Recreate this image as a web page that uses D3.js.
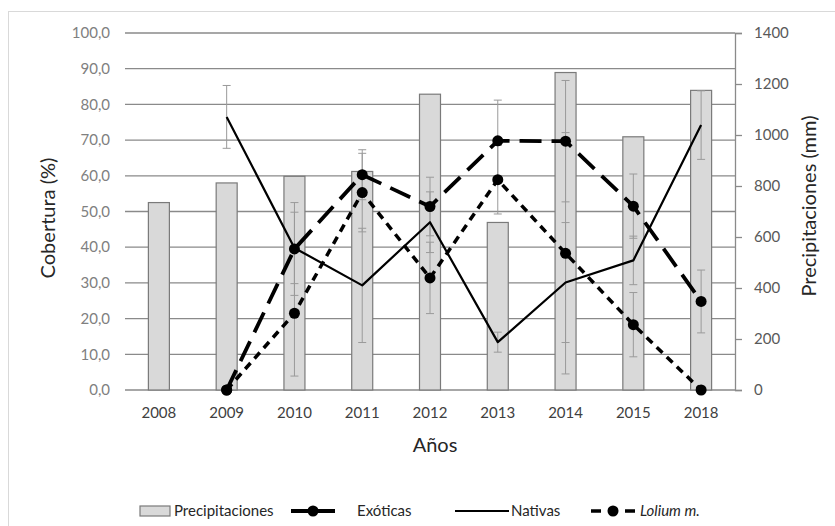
<!DOCTYPE html>
<html><head><meta charset="utf-8">
<script src="https://cdn.jsdelivr.net/npm/d3@7"></script>
<style>body{margin:0;background:#fff}svg{display:block;font-family:Lato,"Open Sans",sans-serif}</style>
</head><body><svg id="c" width="835" height="526"></svg>
<script>
const years = ["2008","2009","2010","2011","2012","2013","2014","2015","2018"];
const precip = [735, 812, 838, 857, 1160, 657, 1245, 993, 1175];
const exoticas = [null, 0, 39.5, 60.3, 51.4, 69.8, 69.7, 51.5, 24.8];
const exoticasErr = [null, 0, 13, 7, 8.2, 11.4, 17, 9, 8.8];
const nativas = [null, 76.5, 39.8, 29.3, 47, 13.4, 30.1, 36.3, 74.2];
const nativasErr = [null, 8.8, 10, 16, 8.5, 2.8, 16.8, 6.8, 9.6];
const lolium = [null, 0, 21.5, 55.3, 31.4, 58.9, 38.3, 18.3, 0];
const loliumErr = [null, 0, 17.6, 11, 10, 9.6, 33.8, 9, 0];
const leftTicks = [0,10,20,30,40,50,60,70,80,90,100];
const rightTicks = [0,200,400,600,800,1000,1200,1400];

const svg = d3.select("#c");
const L = 125, R = 735, T = 33, B = 390;
const x = d3.scaleBand().domain(years).range([L, R]).padding(0);
const yL = d3.scaleLinear().domain([0,100]).range([B, T]);
const yR = d3.scaleLinear().domain([0,1400]).range([B, T]);
const fmt = d => d.toFixed(1).replace(".", ",");
const cx = d => x(d) + x.bandwidth()/2;

// border
svg.append("rect").attr("x",8.5).attr("y",11.5).attr("width",840).attr("height",540)
  .attr("fill","none").attr("stroke","#d9d9d9");

// gridlines
svg.append("g").selectAll("line").data(leftTicks).join("line")
  .attr("x1",L).attr("x2",R).attr("y1",d=>yL(d)).attr("y2",d=>yL(d))
  .attr("stroke","#8a8a8a").attr("stroke-width",1.3);

// left labels
svg.append("g").selectAll("text").data(leftTicks).join("text")
  .attr("x",110).attr("y",d=>yL(d)).attr("dy","0.35em").attr("text-anchor","end")
  .attr("font-size",15).attr("fill","#808080").text(fmt);

// right axis
const ra = svg.append("g").attr("transform",`translate(${R},0)`)
  .call(d3.axisRight(yR).tickValues(rightTicks).tickSize(7).tickPadding(12).tickFormat(d3.format("d")));
ra.select(".domain").attr("stroke","#8a8a8a").attr("stroke-width",1.3);
ra.selectAll(".tick line").attr("stroke","#8a8a8a").attr("stroke-width",1.3);
ra.selectAll(".tick text").attr("font-size",15).attr("fill","#595959").attr("font-family","Lato");

// bars
const barW = 21;
svg.append("g").selectAll("rect").data(years).join("rect")
  .attr("x",d=>cx(d)-barW/2).attr("width",barW)
  .attr("y",(d,i)=>yR(precip[i])).attr("height",(d,i)=>B-yR(precip[i]))
  .attr("fill","#d9d9d9").attr("stroke","#7a7a7a").attr("stroke-width",1.2);

// x labels
svg.append("g").selectAll("text").data(years).join("text")
  .attr("x",cx).attr("y",413).attr("dy","0.35em").attr("text-anchor","middle")
  .attr("font-size",15).attr("fill","#404040").text(d=>d);

// error bars
function errBars(vals, errs){
  const g = svg.append("g").attr("stroke","#9a9a9a").attr("stroke-width",1);
  years.forEach((yr,i)=>{
    if(vals[i]==null || !errs[i]) return;
    const c = cx(yr), lo = yL(vals[i]-errs[i]), hi = yL(vals[i]+errs[i]);
    g.append("line").attr("x1",c).attr("x2",c).attr("y1",lo).attr("y2",hi);
    g.append("line").attr("x1",c-4).attr("x2",c+4).attr("y1",lo).attr("y2",lo);
    g.append("line").attr("x1",c-4).attr("x2",c+4).attr("y1",hi).attr("y2",hi);
  });
}
errBars(exoticas, exoticasErr);
errBars(nativas, nativasErr);
errBars(lolium, loliumErr);

const line = d3.line().defined(d=>d.v!=null).x(d=>cx(d.yr)).y(d=>yL(d.v));
function series(vals, w, dash, markers){
  const data = years.map((yr,i)=>({yr, v: vals[i]}));
  svg.append("path").datum(data).attr("d",line).attr("fill","none")
    .attr("stroke","#000").attr("stroke-width",w).attr("stroke-dasharray",dash)
    .attr("stroke-linejoin","round");
  if(markers){
    svg.append("g").selectAll("circle").data(data.filter(d=>d.v!=null)).join("circle")
      .attr("cx",d=>cx(d.yr)).attr("cy",d=>yL(d.v)).attr("r",5.5).attr("fill","#000");
  }
}
series(nativas, 2.2, null, false);
series(exoticas, 3.8, "22,10", true);
series(lolium, 3.5, "8,6", true);

// axis titles
svg.append("text").attr("transform","translate(55,218) rotate(-90)").attr("text-anchor","middle")
  .attr("font-size",20).attr("fill","#262626").text("Cobertura (%)");
svg.append("text").attr("transform","translate(816,206) rotate(-90)").attr("text-anchor","middle")
  .attr("font-size",20).attr("fill","#262626").text("Precipitaciones (mm)");
svg.append("text").attr("x",435).attr("y",452).attr("text-anchor","middle")
  .attr("font-size",20).attr("fill","#262626").text("Años");

// legend
const ly = 511;
const lg = svg.append("g");
lg.append("rect").attr("x",140).attr("y",ly-5).attr("width",30).attr("height",10)
  .attr("fill","#d9d9d9").attr("stroke","#7a7a7a").attr("stroke-width",1.2);
lg.append("text").attr("x",174).attr("y",ly).attr("dy","0.35em").attr("font-size",15).attr("fill","#262626").text("Precipitaciones");
lg.append("line").attr("x1",291).attr("x2",335).attr("y1",ly).attr("y2",ly).attr("stroke","#000").attr("stroke-width",3.8);
lg.append("circle").attr("cx",313).attr("cy",ly).attr("r",5.5);
lg.append("text").attr("x",357).attr("y",ly).attr("dy","0.35em").attr("font-size",15).attr("fill","#262626").text("Exóticas");
lg.append("line").attr("x1",455).attr("x2",509).attr("y1",ly).attr("y2",ly).attr("stroke","#000").attr("stroke-width",2.2);
lg.append("text").attr("x",511).attr("y",ly).attr("dy","0.35em").attr("font-size",15).attr("fill","#262626").text("Nativas");
lg.append("line").attr("x1",591).attr("x2",636).attr("y1",ly).attr("y2",ly).attr("stroke","#000").attr("stroke-width",3.5).attr("stroke-dasharray","10,7");
lg.append("circle").attr("cx",613).attr("cy",ly).attr("r",5.5);
lg.append("text").attr("x",640).attr("y",ly).attr("dy","0.35em").attr("font-size",15).attr("font-style","italic").attr("fill","#262626").text("Lolium m.");
</script></body></html>
